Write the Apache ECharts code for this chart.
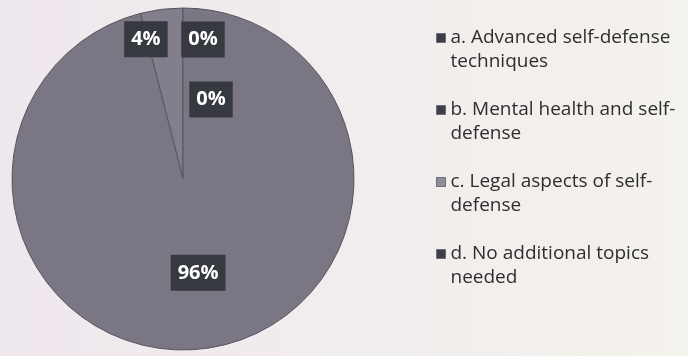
<!DOCTYPE html>
<html>
<head>
<meta charset="utf-8">
<style>
html,body{margin:0;padding:0;background:#f1eef0;}
#chart{width:688px;height:356px;}
</style>
<script src="https://cdn.jsdelivr.net/npm/echarts@6/dist/echarts.min.js"></script>
</head>
<body>
<div id="chart"></div>
<script>
// Data
const categories = [
  'a. Advanced self-defense\ntechniques',
  'b. Mental health and self-\ndefense',
  'c. Legal aspects of self-\ndefense',
  'd. No additional topics\nneeded'
];
const values = [0, 0, 4, 96];

// Styles (kept separate from data)
const sliceColors = ['#3b3c48', '#3e3f4a', '#827e8b', '#7a7684'];
const legendColors = ['#3b3c48', '#3e3f4a', '#8f8e96', '#3d3e49'];
const labelOffsets = [[20, -51], [28, 9], [-26, -52], [4, 6]];

const chart = echarts.init(document.getElementById('chart'));
chart.setOption({
  backgroundColor: {
    type: 'linear', x: 0, y: 0, x2: 1, y2: 0,
    colorStops: [{offset: 0, color: '#efe7ee'}, {offset: 1, color: '#f4f2ec'}]
  },
  legend: {
    orient: 'vertical',
    left: 436,
    top: 2,
    padding: 0,
    itemGap: 0,
    itemWidth: 9,
    itemHeight: 9,
    icon: 'rect',
    selectedMode: false,
    data: categories.map((c, i) => ({
      name: c,
      itemStyle: {color: legendColors[i], borderColor: '#6d6d78', borderWidth: 1}
    })),
    formatter: name => '\n' + name,
    textStyle: {
      fontFamily: 'Open Sans',
      fontSize: 19,
      lineHeight: 24,
      color: '#2e2e30'
    }
  },
  series: [{
    type: 'pie',
    center: [183, 179],
    radius: 171,
    startAngle: 90,
    clockwise: false,
    avoidLabelOverlap: false,
    percentPrecision: 0,
    emphasis: {disabled: true},
    itemStyle: {borderColor: '#58555e', borderWidth: 1},
    label: {
      show: true,
      position: 'inside',
      formatter: '{d}%',
      color: '#ffffff',
      fontFamily: 'Open Sans',
      fontWeight: 'bold',
      fontSize: 20,
      backgroundColor: '#363940',
      padding: [8, 7, 8, 7]
    },
    labelLine: {show: false},
    data: categories.map((c, i) => ({
      name: c,
      value: values[i],
      itemStyle: {color: sliceColors[i]},
      label: {offset: labelOffsets[i]}
    }))
  }]
});
</script>
</body>
</html>
